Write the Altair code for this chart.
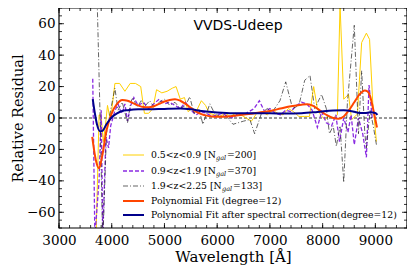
import altair as alt
import pandas as pd

# ---------------- data ----------------
yel_wl = [3700, 3760, 3800, 3840, 3880, 3920, 3960, 4000, 4060, 4150, 4250, 4350, 4450, 4550, 4620, 4700,
          4780, 4850, 4950, 5050, 5150, 5220, 5300, 5380, 5450, 5520, 5600, 5700, 5780, 5850, 5950, 6050,
          6150, 6250, 6350, 6450, 6550, 6650, 6750, 6850, 6950, 7050, 7150, 7250, 7350, 7450, 7550, 7650,
          7750, 7830, 7900, 7960, 8040, 8120, 8200, 8280, 8330, 8400, 8490, 8550, 8660, 8740, 8830, 8890,
          8950, 9020]
yel_val = [-80, 2, 1, -15, -5, 8, 1, 5, 22, 22, 17, 22, 22, 20, 3, 3,
           6, 18, 16, 17, 19, 20, 12, 13, 4, 6, 4, 11, 8, 3, 2, 1,
           3, 1, 3, 2, 0, -2, 3, 4, 2, 5, 3, 2, 6, 4, 1, 1,
           1, 20, 6, 2, -1, 1, 0, 2, 72, 12, 15, -1, 2.5, 48, 54, 50,
           10, -15]

pur_wl = [3640, 3680, 3760, 3800, 3830, 3890, 3940, 3980, 4060, 4120, 4160, 4200, 4250, 4300, 4360, 4420,
          4500, 4600, 4700, 4800, 4900, 5000, 5100, 5200, 5300, 5400, 5500, 5600, 5700, 5800, 5900, 6000,
          6100, 6200, 6300, 6400, 6500, 6600, 6700, 6800, 6900, 7000, 7100, 7200, 7300, 7400, 7500, 7600,
          7700, 7800, 7900, 7980, 8070, 8170, 8250, 8320, 8400, 8480, 8540, 8600, 8680, 8760, 8830, 8880,
          8940]
pur_val = [25, -75, -40, 5, -75, -12, -19, -5, 4.5, 9, 5, 3, 9, -2, 8, 13,
           8, 10, 6, 9, 12, 9, 10, 8, 6, 10, 5, 2, 4, 3, 1, 2,
           3, 1, 0, 3, 2, 4, 6, 11, 4, 6, 3, 2, 5, 4, 8, 10,
           9, 5, -6, 4, -3, -5, 2, -15, 0, -9, 2, -17, 0, -10, -25, 21,
           0]

blk_wl = [3720, 3780, 3830, 3900, 3950, 4060, 4120, 4200, 4300, 4360, 4400, 4480, 4560, 4640, 4720, 4800,
          4900, 5000, 5100, 5200, 5300, 5400, 5480, 5560, 5650, 5730, 5860, 5950, 6050, 6150, 6300, 6400,
          6500, 6620, 6710, 6840, 6950, 7050, 7190, 7300, 7430, 7550, 7660, 7760, 7850, 7980, 8070, 8130,
          8200, 8260, 8330, 8400, 8470, 8600, 8680, 8740, 8800, 8830, 8900, 8960, 9020]
blk_val = [80, 0, -80, -10, 0, 19, 5, 10, -3, 10, 13, 7, 11, 8, 11, 7,
           10, 12, 8, 10, 6, 8, 13.5, 3, 6, -4, 9, 3, 1, 2, -4, -3,
           -2, -1, -10, 3, 6, 4, 11, 23, 6, 8, 24, 27, 6, 15, 6, -10,
           -5, -18, -5, -41, 10, 59, -10, 30, -10, -19, 5, -5, -17]

fit_wl = [3630, 3700, 3760, 3820, 3900, 4000, 4100, 4200, 4300, 4400, 4500, 4600, 4700, 4800, 4900, 5000,
          5100, 5200, 5300, 5400, 5500, 5600, 5700, 5800, 5900, 6000, 6200, 6400, 6600, 6800, 7000, 7200,
          7400, 7600, 7700, 7800, 7900, 8000, 8100, 8200, 8300, 8400, 8500, 8600, 8700, 8800, 8850, 8900,
          8950, 9000, 9030]
fit_val = [-12, -27, -32, -24, -8, 3, 9, 11.5, 11, 9.5, 8, 7, 6.8, 7.5, 9, 10.5,
           11.5, 12, 11, 9, 6.5, 4, 2.5, 1.5, 1, 0.8, 1, 1.8, 2.5, 3.5, 4.5, 6,
           7.5, 8.5, 8.8, 8, 6, 3.5, 1.5, 0, -0.5, 1, 5, 10, 15, 17.5, 17, 14,
           7, -1, -6]

cor_wl = [3640, 3680, 3720, 3780, 3830, 3900, 4000, 4100, 4200, 4300, 4500, 4700, 5000, 5300, 5500, 5700,
          6000, 6300, 6600, 7000, 7300, 7600, 7900, 8200, 8400, 8600, 8700, 8800, 8900, 9000, 9040]
cor_val = [12, 3, -4, -8.5, -8, -4, 0.5, 3, 4.5, 5, 5.5, 5.5, 5.8, 6, 5.5, 4.5,
           3.5, 3, 3, 3, 2.8, 3, 3.8, 4.8, 5, 4, 3.2, 3.2, 3.6, 3.2, 2]

x_major = [3000, 4000, 5000, 6000, 7000, 8000, 9000]
x_minor = list(range(3000, 9601, 200))
y_major = [-60, -40, -20, 0, 20, 40, 60]
y_minor = list(range(-70, 71, 5))

legend_labels = [("0.5<z<0.9 [N", "=200]"), ("0.9<z<1.9 [N", "=370]"), ("1.9<z<2.25 [N", "=133]"),
                 ("Polynomial Fit (degree=12)", ""), ("Polynomial Fit after spectral correction(degree=12)", "")]

# ---------------- layout ----------------
W, H = 348, 220
SERIF = "DejaVu Serif"
XD = [3000, 9600]
YD = [-70, 70]

xs = alt.Scale(domain=XD, nice=False, zero=False)
ys = alt.Scale(domain=YD, nice=False, zero=False)

xaxis = alt.Axis(values=x_major, format="d", ticks=False, domain=False, grid=False, labelFont=SERIF,
                 labelFontSize=13.5, labelColor="black", labelPadding=5, titleFont=SERIF,
                 titleFontSize=15, titleFontWeight="normal", titleColor="black", titlePadding=3,
                 labelFlush=False, labelOverlap=False)
yaxis = alt.Axis(values=y_major, format="d", ticks=False, domain=False, grid=False, labelFont=SERIF,
                 labelFontSize=13.5, labelColor="black", labelPadding=4, titleFont=SERIF,
                 titleFontSize=14.5, titleFontWeight="normal", titleColor="black", titlePadding=1,
                 labelFlush=False, labelOverlap=False)


def X():
    return alt.X("wl:Q", scale=xs, title="Wavelength [Å]", axis=xaxis)


def Y():
    return alt.Y("val:Q", scale=ys, title="Relative Residual", axis=yaxis)


def line_layer(wl, val, color, width, dash=None, interp=None):
    df = pd.DataFrame({"wl": wl, "val": val})
    kw = dict(color=color, strokeWidth=width, clip=True)
    if dash:
        kw["strokeDash"] = dash
    if interp:
        kw["interpolate"] = interp
    return alt.Chart(df).mark_line(**kw).encode(x=X(), y=Y())


zero = alt.Chart(pd.DataFrame({"val": [0]})).mark_rule(color="black", strokeWidth=0.8, strokeDash=[3, 2]).encode(
    y=Y())


def xticks(vals, length):
    df = pd.DataFrame({"wl": vals})
    bot = alt.Chart(df).mark_rule(color="black", strokeWidth=0.8).encode(
        x=X(), y=alt.value(H), y2=alt.value(H - length))
    top = alt.Chart(df).mark_rule(color="black", strokeWidth=0.8).encode(
        x=X(), y=alt.value(0), y2=alt.value(length))
    return [bot, top]


def yticks(vals, length):
    df = pd.DataFrame({"val": vals})
    left = alt.Chart(df).mark_rule(color="black", strokeWidth=0.8).encode(
        y=Y(), x=alt.value(0), x2=alt.value(length))
    right = alt.Chart(df).mark_rule(color="black", strokeWidth=0.8).encode(
        y=Y(), x=alt.value(W), x2=alt.value(W - length))
    return [left, right]


ticks = xticks(x_major, 5) + xticks(x_minor, 3) + yticks(y_major, 5) + yticks(y_minor, 3)

frame = alt.Chart(pd.DataFrame({"k": [0]})).mark_rect(fill=None, fillOpacity=0, stroke="black",
                                                       strokeWidth=1.2).encode(
    x=alt.value(0), x2=alt.value(W), y=alt.value(0), y2=alt.value(H))

series = [
    line_layer(yel_wl, yel_val, "#FFD000", 1.0),
    line_layer(pur_wl, pur_val, "#8A2BE2", 1.3, [4, 2]),
    line_layer(blk_wl, blk_val, "#222222", 0.7, [5, 2, 1, 2]),
    line_layer(fit_wl, fit_val, "#FF4500", 2.0, interp="monotone"),
    line_layer(cor_wl, cor_val, "#00008B", 2.0, interp="monotone"),
]

title = alt.Chart(pd.DataFrame({"t": ["VVDS-Udeep"]})).mark_text(
    font="DejaVu Sans", fontSize=14, color="black", align="center", baseline="middle").encode(
    text="t:N", x=alt.value(179), y=alt.value(18))

# manual legend
leg_rows = [147, 163, 178, 193, 207]
leg_styles = [("#FFD000", 1.0, None), ("#8A2BE2", 1.3, [4, 2]), ("#222222", 0.7, [5, 2, 1, 2]),
              ("#FF4500", 2.0, None), ("#00008B", 2.0, None)]
sub_x = [157, 157, 163]
tail_x = [168, 168, 174]
legend = []
for i, ((a, b), (col, sw, dash), yy) in enumerate(zip(legend_labels, leg_styles, leg_rows)):
    kw = dict(color=col, strokeWidth=sw)
    if dash:
        kw["strokeDash"] = dash
    legend.append(alt.Chart(pd.DataFrame({"k": [a]})).mark_rule(**kw).encode(
        x=alt.value(64), x2=alt.value(85), y=alt.value(yy)))
    legend.append(alt.Chart(pd.DataFrame({"k": [a]})).mark_text(
        font=SERIF, fontSize=9.3, color="black", align="left", baseline="middle").encode(
        text="k:N", x=alt.value(92), y=alt.value(yy)))
    if b:
        legend.append(alt.Chart(pd.DataFrame({"k": ["gal"]})).mark_text(
            font=SERIF, fontSize=6.5, fontStyle="italic", color="black", align="left", baseline="middle").encode(
            text="k:N", x=alt.value(sub_x[i]), y=alt.value(yy + 3)))
        legend.append(alt.Chart(pd.DataFrame({"k": [b]})).mark_text(
            font=SERIF, fontSize=9.3, color="black", align="left", baseline="middle").encode(
            text="k:N", x=alt.value(tail_x[i]), y=alt.value(yy)))

chart = alt.layer(zero, *series, *ticks, frame, title, *legend).properties(
    width=W, height=H, padding={"left": 51, "top": 0, "right": 0, "bottom": 47},
    autosize=alt.AutoSizeParams(type="none"),
).configure_view(stroke=None)

chart.save("out.html", embed_options={"renderer": "svg", "actions": False})
